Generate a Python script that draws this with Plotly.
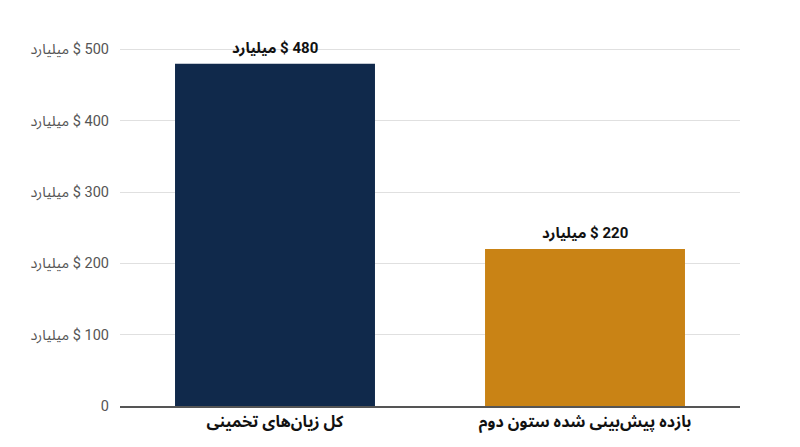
import plotly.graph_objects as go

categories = ["کل زیان‌های تخمینی", "بازده پیش‌بینی شده ستون دوم"]
values = [480, 220]
colors = ["#10294b", "#c98315"]
tick_values = [0, 100, 200, 300, 400, 500]

RLM = "\u200f"
unit = " $ میلیارد"

tick_text = ["0"] + [RLM + str(v) + unit for v in tick_values[1:]]
bar_text = [RLM + str(v) + unit for v in values]

FONT = "Roboto, 'Noto Sans Arabic', 'Noto Naskh Arabic', 'Noto Sans', 'DejaVu Sans'"

fig = go.Figure(
    go.Bar(
        x=categories,
        y=values,
        marker=dict(color=colors, line=dict(width=0)),
        width=0.645,
        hoverinfo="x+y",
    )
)

for cat, val, txt in zip(categories, values, bar_text):
    fig.add_annotation(
        x=cat,
        y=val,
        text=txt,
        showarrow=False,
        xanchor="center",
        yanchor="bottom",
        yshift=5,
        font=dict(family=FONT, size=15, color="#111111", weight="bold"),
    )

fig.update_layout(
    width=800,
    height=447,
    margin=dict(l=112, r=68, t=20, b=49),
    paper_bgcolor="white",
    plot_bgcolor="white",
    showlegend=False,
    font=dict(family=FONT),
)
fig.update_xaxes(
    range=[-0.5, 1.5],
    showgrid=False,
    showline=True,
    linecolor="#555555",
    linewidth=1.5,
    ticks="",
    tickfont=dict(size=16, color="#111111", weight="bold"),
)
fig.update_yaxes(
    range=[0, 530],
    tickvals=tick_values,
    ticktext=tick_text,
    showgrid=True,
    gridcolor="#e0e0e0",
    gridwidth=1,
    zeroline=False,
    ticks="",
    ticklabelstandoff=10,
    tickfont=dict(size=14.5, color="#555555"),
)

fig.write_html("out.html")
